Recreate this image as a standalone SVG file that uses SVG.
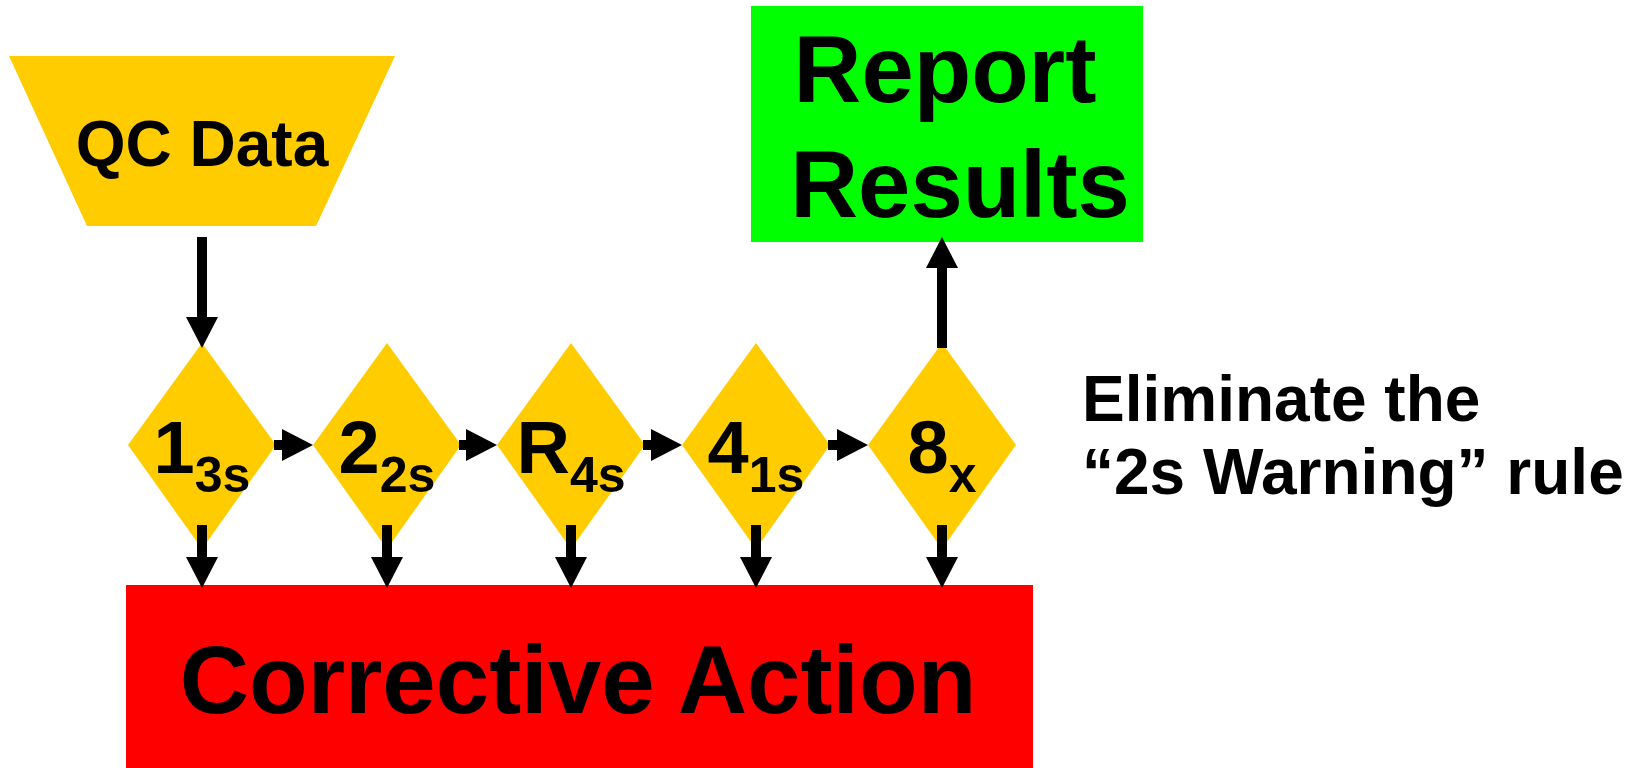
<svg xmlns="http://www.w3.org/2000/svg" width="1641" height="768" viewBox="0 0 1641 768">
  <style>
    .lbl { font-family: "Liberation Sans", Arial, sans-serif; font-weight: bold; fill: #000; }
    .rule { fill: #FFCC00; }
    .flow { stroke: #000; stroke-width: 10; fill: none; marker-end: url(#head); }
  </style>
  <defs>
    <marker id="head" markerUnits="userSpaceOnUse" markerWidth="32" markerHeight="32" refX="0" refY="16" orient="auto" overflow="visible">
      <path d="M0,0 L31,16 L0,32 Z" fill="#000"/>
    </marker>
  </defs>

  <rect width="1641" height="768" fill="#fff"/>

  <!-- data source -->
  <g id="qc-data">
    <polygon points="9,56 395,56 316,226 87,226" fill="#FFCC00"/>
    <text class="lbl" x="202" y="166" font-size="64" text-anchor="middle">QC Data</text>
  </g>

  <!-- rule checks -->
  <g id="rule-13s">
    <polygon class="rule" points="202,343 276,445 202,549 128,445"/>
    <text class="lbl" x="202" y="473" font-size="74" text-anchor="middle">1<tspan font-size="50" dy="19">3s</tspan></text>
  </g>
  <g id="rule-22s">
    <polygon class="rule" points="387,343 461,445 387,549 313,445"/>
    <text class="lbl" x="387" y="473" font-size="74" text-anchor="middle">2<tspan font-size="50" dy="19">2s</tspan></text>
  </g>
  <g id="rule-r4s">
    <polygon class="rule" points="571,343 645,445 571,549 497,445"/>
    <text class="lbl" x="571" y="473" font-size="74" text-anchor="middle">R<tspan font-size="50" dy="19">4s</tspan></text>
  </g>
  <g id="rule-41s">
    <polygon class="rule" points="756,343 830,445 756,549 682,445"/>
    <text class="lbl" x="756" y="473" font-size="74" text-anchor="middle">4<tspan font-size="50" dy="19">1s</tspan></text>
  </g>
  <g id="rule-8x">
    <polygon class="rule" points="942,343 1016,445 942,549 868,445"/>
    <text class="lbl" x="942" y="473" font-size="74" text-anchor="middle">8<tspan font-size="50" dy="19">x</tspan></text>
  </g>

  <!-- outcomes -->
  <g id="report-results">
    <rect x="751" y="6" width="392" height="236" fill="#00FF00"/>
    <text class="lbl" x="945" y="102" font-size="94" text-anchor="middle">Report</text>
    <text class="lbl" x="960" y="217" font-size="94" text-anchor="middle">Results</text>
  </g>
  <g id="corrective-action">
    <rect x="126" y="585" width="907" height="183" fill="#FF0000"/>
    <text class="lbl" x="578" y="713" font-size="96" text-anchor="middle">Corrective Action</text>
  </g>

  <!-- note -->
  <g id="note">
    <text class="lbl" x="1082" y="421" font-size="64">Eliminate the</text>
    <text class="lbl" x="1082" y="494" font-size="64">“2s Warning” rule</text>
  </g>

  <!-- connectors -->
  <g id="connectors">
    <line class="flow" x1="202" y1="237" x2="202" y2="317"/>
    <line class="flow" x1="274" y1="445" x2="282" y2="445"/>
    <line class="flow" x1="459" y1="445" x2="466" y2="445"/>
    <line class="flow" x1="643" y1="445" x2="651" y2="445"/>
    <line class="flow" x1="828" y1="445" x2="837" y2="445"/>
    <line class="flow" x1="942" y1="348" x2="942" y2="268"/>
    <line class="flow" x1="202" y1="525" x2="202" y2="557"/>
    <line class="flow" x1="387" y1="525" x2="387" y2="557"/>
    <line class="flow" x1="571" y1="525" x2="571" y2="557"/>
    <line class="flow" x1="756" y1="525" x2="756" y2="557"/>
    <line class="flow" x1="942" y1="525" x2="942" y2="557"/>
  </g>
</svg>
